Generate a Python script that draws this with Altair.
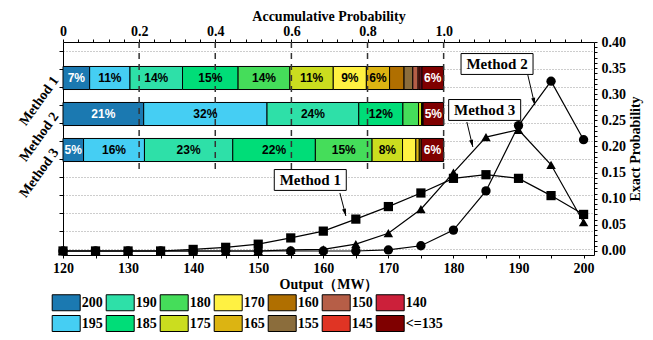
import altair as alt
import pandas as pd

SERIF = "Liberation Serif"
SANS = "Liberation Sans"

# ---------------- data ----------------
categories = ["200", "195", "190", "185", "180", "175", "170", "165",
              "160", "155", "150", "145", "140", "<=135"]
legend_order = ["200", "190", "180", "170", "160", "150", "140",
                "195", "185", "175", "165", "155", "145", "<=135"]
legend_colors = ["#1b79b1", "#2ee0a8", "#45dd5a", "#fff142", "#b06f00", "#b65e47", "#cc203a",
                 "#45cef3", "#00dd78", "#cbdd1f", "#dcb412", "#8b6d3c", "#e03424", "#7f0000"]

methods = ["Method 1", "Method 2", "Method 3"]
bar_row = [1.5, 3.5, 5.5]
bar_m1 = [0.070, 0.106, 0.138, 0.146, 0.136, 0.114, 0.087, 0.061, 0.038, 0.023, 0.014, 0.005, 0.005, 0.057]
bar_m2 = [0.212, 0.324, 0.241, 0.116, 0.041, 0.008, 0.003, 0.001, 0.0, 0.0, 0.0, 0.0, 0.0, 0.054]
bar_m3 = [0.054, 0.160, 0.232, 0.217, 0.149, 0.080, 0.035, 0.009, 0.005, 0.0, 0.0, 0.0, 0.0, 0.059]

output_mw = [120, 125, 130, 135, 140, 145, 150, 155, 160, 165, 170, 175, 180, 185, 190, 195, 200]
exact_m1 = [0.000, 0.000, 0.000, 0.000, 0.003, 0.007, 0.013, 0.025, 0.038, 0.061, 0.085, 0.111, 0.139, 0.146, 0.139, 0.106, 0.070]
exact_m2 = [0.000, 0.000, 0.000, 0.000, 0.000, 0.000, 0.000, 0.000, 0.000, 0.000, 0.002, 0.010, 0.040, 0.115, 0.240, 0.325, 0.213]
exact_m3 = [0.000, 0.000, 0.000, 0.000, 0.000, 0.000, 0.000, 0.002, 0.003, 0.013, 0.034, 0.080, 0.150, 0.218, 0.232, 0.165, 0.055]

dash_at = [0.2, 0.4, 0.6, 0.8, 1.0]
dash_from, dash_to = -0.5, 6.6

ann_x = [158.0, 186.7, 184.8]
ann_y = [0.1359, 0.3579, 0.2699]
arrow_x0 = [162.55, 191.43, 182.06]
arrow_y0 = [0.111, 0.3368, 0.2469]
arrow_x1 = [163.47, 192.50, 182.98]
arrow_y1 = [0.0670, 0.2794, 0.1990]
arrow_angle = [345, 347, 346]

# ---------------- tables ----------------
rows = []
for m, r, vals in zip(methods, bar_row, [bar_m1, bar_m2, bar_m3]):
    cum = 0.0
    for i, (c, v) in enumerate(zip(categories, vals)):
        if v > 0:
            rows.append(dict(method=m, cat=c, start=cum, end=cum + v, mid=cum + v / 2,
                             ylo=r - 0.64, yhi=r + 0.64, yc=r,
                             label=(f"{round(v * 100)}%" if v >= 0.05 else ""),
                             dark=c in ("200", "<=135")))
        cum += v
bars_df = pd.DataFrame(rows)

line_df = pd.DataFrame(
    [dict(method=m, output=o, prob=p)
     for m, vals in zip(methods, [exact_m1, exact_m2, exact_m3])
     for o, p in zip(output_mw, vals)]
)
dash_df = pd.DataFrame({"p": dash_at, "y0": [dash_from] * len(dash_at), "y1": [dash_to] * len(dash_at)})
mlab_df = pd.DataFrame({"m": methods, "yc": bar_row})
ann_df = pd.DataFrame({"m": methods, "tx": ann_x, "ty": ann_y, "x0": arrow_x0, "y0": arrow_y0,
                       "x1": arrow_x1, "y1": arrow_y1, "ang": arrow_angle})

# ---------------- scales / axes ----------------
xs_top = alt.Scale(domain=[0, 1.395], nice=False, zero=False)
ys_bar = alt.Scale(domain=[-0.5, 11.333], reverse=True, nice=False, zero=False)
xs_bot = alt.Scale(domain=[120, 201.6], nice=False, zero=False)
ys_right = alt.Scale(domain=[-0.0077, 0.40], nice=False, zero=False)

common = dict(labelFont=SERIF, labelFontWeight="bold", labelFontSize=14, labelColor="black",
              domainColor="black", tickColor="black", labelFlush=False)
tcommon = dict(titleFont=SERIF, titleFontWeight="bold", titleFontSize=14, titleColor="black")

top_vals = [round(i * 0.04, 4) for i in range(35)]
top_axis = alt.Axis(orient="top", values=top_vals, title="Accumulative Probability",
                    labelExpr="datum.value > 1.001 ? '' : (abs(datum.value*5 - round(datum.value*5)) < 0.01 ? (datum.value == 0 ? '0' : format(datum.value, '.1f')) : '')",
                    tickSize=3, labelPadding=1, titlePadding=1, grid=False, **common, **tcommon)
left_axis = alt.Axis(orient="left", values=list(range(12)), labels=False, title=None,
                     tickSize=4, grid=True, gridDash=[1, 2], gridColor="#9a9a9a", **common)
bot_vals = list(range(120, 201, 5))
bottom_axis = alt.Axis(orient="bottom", values=bot_vals, title="Output（MW）",
                       labelExpr="datum.value % 10 == 0 ? format(datum.value, 'd') : ''",
                       tickSize=3, labelPadding=3, titlePadding=2, grid=False, **common, **tcommon)
right_vals = [round(i * 0.01, 2) for i in range(41)]
right_axis = alt.Axis(orient="right", values=right_vals, title="Exact Probability",
                      labelExpr="abs(datum.value*20 - round(datum.value*20)) < 0.01 ? format(datum.value, '.2f') : ''",
                      tickSize=3, labelPadding=4, titlePadding=3, titleAngle=270,
                      titleBaseline="top", grid=False, **common, **tcommon)

legend = alt.Legend(title=None, orient="none", legendX=-5.3, legendY=252, direction="horizontal",
                    columns=7, symbolType="M-1.75,-1H1.75V1H-1.75Z", symbolSize=256,
                    symbolStrokeColor="black", symbolStrokeWidth=1, symbolOpacity=1,
                    labelFont=SERIF, labelFontWeight="bold", labelFontSize=14, labelColor="black",
                    labelOffset=7, columnPadding=1, rowPadding=0, padding=0)

XT = lambda f: alt.X(f, type="quantitative", scale=xs_top, axis=top_axis)
YB = lambda f: alt.Y(f, type="quantitative", scale=ys_bar, axis=left_axis)
XB = lambda f: alt.X(f, type="quantitative", scale=xs_bot, axis=bottom_axis)
YR = lambda f: alt.Y(f, type="quantitative", scale=ys_right, axis=right_axis)

# ---------------- bar layer ----------------
bars = alt.Chart(bars_df).mark_rect(stroke="black", strokeWidth=1).encode(
    x=XT("start"), x2="end", y=YB("ylo"), y2="yhi",
    color=alt.Color("cat:N", scale=alt.Scale(domain=legend_order, range=legend_colors), legend=legend),
)
bar_text = alt.Chart(bars_df).transform_filter("datum.label != ''").mark_text(
    font=SANS, fontWeight="bold", fontSize=12).encode(
    x=XT("mid"), y=YB("yc"), text="label:N",
    color=alt.condition("datum.dark", alt.value("white"), alt.value("black")),
)
rules = alt.Chart(dash_df).mark_rule(strokeDash=[6, 5], strokeWidth=1.5, color="#333333").encode(
    x=XT("p"), y=YB("y0"), y2="y1",
)
mlab = alt.Chart(mlab_df).mark_text(font=SERIF, fontWeight="bold", fontSize=14, angle=306,
                                    align="right", baseline="middle", color="black").encode(
    x=alt.value(-7), y=YB("yc"), text="m:N",
)
bar_layer = alt.layer(bars, rules, bar_text, mlab)

# ---------------- line layer ----------------
lines = alt.Chart(line_df).mark_line(color="black", strokeWidth=1.2).encode(
    x=XB("output"), y=YR("prob"), detail="method:N",
)
points = alt.Chart(line_df).mark_point(filled=True, color="black", opacity=1).encode(
    x=XB("output"), y=YR("prob"),
    shape=alt.Shape("method:N", scale=alt.Scale(domain=methods, range=["square", "circle", "triangle-up"]), legend=None),
    size=alt.Size("method:N", scale=alt.Scale(domain=methods, range=[85, 90, 115]), legend=None),
)
arrows = alt.Chart(ann_df).mark_rule(color="black", strokeWidth=1).encode(
    x=XB("x0"), y=YR("y0"), x2="x1", y2="y1",
)
heads = alt.Chart(ann_df).mark_point(shape="M0,0L-0.45,-1.6L0.45,-1.6Z", size=80, filled=True,
                                     color="black", opacity=1).encode(
    x=XB("x1"), y=YR("y1"), angle=alt.Angle("ang:Q", scale=None),
)
boxes = alt.Chart(ann_df).mark_point(shape="M-1,-0.29H1V0.29H-1Z", size=5184, filled=True,
                                     fill="white", stroke="black", strokeWidth=1, opacity=1).encode(
    x=XB("tx"), y=YR("ty"),
)
box_text = alt.Chart(ann_df).mark_text(font=SERIF, fontWeight="bold", fontSize=15, color="black").encode(
    x=XB("tx"), y=YR("ty"), text="m:N",
)
line_layer = alt.layer(lines, points, arrows, boxes, box_text, heads)

chart = alt.layer(bar_layer, line_layer).resolve_scale(
    x="independent", y="independent"
).properties(
    width=531, height=213,
    padding={"left": 55, "top": 34, "right": 51, "bottom": 77},
    autosize=alt.AutoSizeParams(type="none"),
    background="white",
).configure_view(stroke=None)

chart.save("out.html", embed_options={"renderer": "svg", "actions": False})
